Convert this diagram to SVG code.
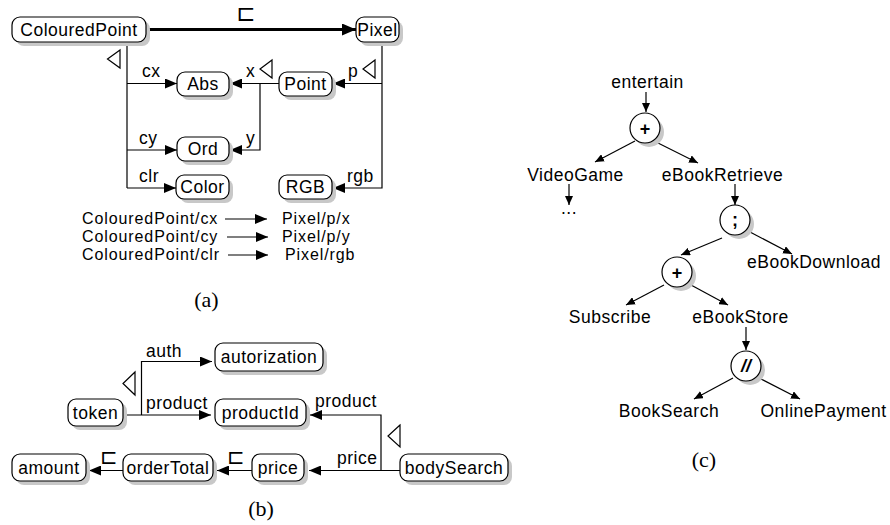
<svg xmlns="http://www.w3.org/2000/svg" width="890" height="525" viewBox="0 0 890 525">
<style>
.box{fill:#fff;stroke:#000;stroke-width:1.2}
.sh{fill:#c8c8c8;stroke:none}
.t{font-family:"Liberation Sans",Arial,sans-serif;font-size:17.5px;letter-spacing:0.5px;fill:#000}
.mp{font-family:"Liberation Sans",Arial,sans-serif;font-size:16px;letter-spacing:0.9px;fill:#000}
.m{text-anchor:middle}
.ln{fill:none;stroke:#000;stroke-width:1.2}
.thick{fill:none;stroke:#000;stroke-width:3}
.cap{font-family:"Liberation Serif","Times New Roman",serif;font-size:22px;text-anchor:middle;fill:#000}
.sym{font-family:"DejaVu Sans",sans-serif;font-size:23px;fill:#000}
.tri{fill:#fff;stroke:#000;stroke-width:1.2}
.op{font-family:"Liberation Sans",Arial,sans-serif;font-weight:bold;font-size:18px;text-anchor:middle;fill:#000}
</style>
<defs>
<marker id="arr" markerUnits="userSpaceOnUse" markerWidth="12" markerHeight="10" refX="12" refY="5" orient="auto"><path d="M0,0 L12,5 L0,10 z" fill="#000"/></marker>
<marker id="arrs" markerUnits="userSpaceOnUse" markerWidth="9" markerHeight="8" refX="9" refY="4" orient="auto"><path d="M0,0 L9,4 L0,8 z" fill="#000"/></marker>
<marker id="arrt" markerUnits="userSpaceOnUse" markerWidth="14" markerHeight="12" refX="14" refY="6" orient="auto"><path d="M0,0 L14,6 L0,12 z" fill="#000"/></marker>
</defs>
<rect width="890" height="525" fill="#fff"/>

<!-- connectors -->
<g id="connectors">
  <!-- (a) -->
  <path class="thick" d="M146,29.5 H356" marker-end="url(#arrt)"/>
  <path class="ln" d="M127,42 V188"/>
  <path class="ln" d="M127,83.5 H177" marker-end="url(#arr)"/>
  <path class="ln" d="M127,150 H177" marker-end="url(#arr)"/>
  <path class="ln" d="M127,188 H176" marker-end="url(#arr)"/>
  <path class="ln" d="M279,83.5 H230" marker-end="url(#arr)"/>
  <path class="ln" d="M260,83.5 V150 H230" marker-end="url(#arr)"/>
  <path class="ln" d="M382,42 V188 H333" marker-end="url(#arr)"/>
  <path class="ln" d="M382,83.5 H333" marker-end="url(#arr)"/>
  <path class="ln" d="M225,219 H267" marker-end="url(#arr)"/>
  <path class="ln" d="M227,237 H268" marker-end="url(#arr)"/>
  <path class="ln" d="M228,255 H268" marker-end="url(#arr)"/>
  <text class="t" x="142" y="77">cx</text>
  <text class="t" x="246" y="77">x</text>
  <text class="t" x="348" y="77">p</text>
  <text class="t" x="139" y="144">cy</text>
  <text class="t" x="246" y="144">y</text>
  <text class="t" x="139" y="182">clr</text>
  <text class="t" x="347" y="182">rgb</text>
  <text class="sym" x="236.5" y="21">⊏</text>
  <polygon class="tri" points="120,50 107.5,59 120,68"/>
  <polygon class="tri" points="272,60 260,69 272,78"/>
  <polygon class="tri" points="375,60 363,69 375,78"/>
  <!-- (b) -->
  <path class="ln" d="M123,415 H211" marker-end="url(#arr)"/>
  <path class="ln" d="M141.5,415 V361.5 H212" marker-end="url(#arr)"/>
  <path class="ln" d="M400,470.5 H309" marker-end="url(#arr)"/>
  <path class="ln" d="M381,470.5 V415 H310" marker-end="url(#arr)"/>
  <path class="ln" d="M252,470.5 H217" marker-end="url(#arr)"/>
  <path class="ln" d="M123,470.5 H89" marker-end="url(#arr)"/>
  <text class="t" x="146" y="357">auth</text>
  <text class="t" x="146" y="409">product</text>
  <text class="t" x="315" y="407">product</text>
  <text class="t" x="337" y="464">price</text>
  <text class="sym" x="227" y="464" style="font-size:21px">⊏</text>
  <text class="sym" x="100" y="464" style="font-size:21px">⊏</text>
  <polygon class="tri" points="135,372 123,383.5 135,395"/>
  <polygon class="tri" points="400,425 388,436 400,447"/>
  <!-- (c) -->
  <path class="ln" d="M646,92 V112" marker-end="url(#arrs)"/>
  <path class="ln" d="M635,141 L595,162" marker-end="url(#arrs)"/>
  <path class="ln" d="M656,142 L698,163" marker-end="url(#arrs)"/>
  <path class="ln" d="M569,184 V205" marker-end="url(#arrs)"/>
  <path class="ln" d="M735,184 V205" marker-end="url(#arrs)"/>
  <path class="ln" d="M722,238 L681,255" marker-end="url(#arrs)"/>
  <path class="ln" d="M750,232 L792,254" marker-end="url(#arrs)"/>
  <path class="ln" d="M664,285 L626,305" marker-end="url(#arrs)"/>
  <path class="ln" d="M691,285 L728,305" marker-end="url(#arrs)"/>
  <path class="ln" d="M746,327 V350" marker-end="url(#arrs)"/>
  <path class="ln" d="M733,378 L694,399" marker-end="url(#arrs)"/>
  <path class="ln" d="M759,378 L800,399" marker-end="url(#arrs)"/>
</g>

<!-- (a) nodes -->
<g id="ColouredPoint"><rect class="sh" x="16" y="21" width="134" height="25" rx="8"/><rect class="box" x="12" y="17" width="134" height="25" rx="8"/><text class="t m" x="79" y="36">ColouredPoint</text></g>
<g id="Pixel"><rect class="sh" x="360" y="21" width="43" height="25" rx="8"/><rect class="box" x="356" y="17" width="43" height="25" rx="8"/><text class="t m" x="377.5" y="36">Pixel</text></g>
<g id="Abs"><rect class="sh" x="181" y="76" width="52" height="24" rx="8"/><rect class="box" x="177" y="72" width="52" height="24" rx="8"/><text class="t m" x="203" y="90">Abs</text></g>
<g id="Point"><rect class="sh" x="283" y="76" width="53" height="24" rx="8"/><rect class="box" x="279" y="72" width="53" height="24" rx="8"/><text class="t m" x="305.5" y="90">Point</text></g>
<g id="Ord"><rect class="sh" x="181" y="141" width="52" height="24" rx="8"/><rect class="box" x="177" y="137" width="52" height="24" rx="8"/><text class="t m" x="203" y="155">Ord</text></g>
<g id="Color"><rect class="sh" x="180" y="179" width="53" height="24" rx="8"/><rect class="box" x="176" y="175" width="53" height="24" rx="8"/><text class="t m" x="202.5" y="193">Color</text></g>
<g id="RGB"><rect class="sh" x="283" y="179" width="53" height="24" rx="8"/><rect class="box" x="279" y="175" width="53" height="24" rx="8"/><text class="t m" x="305.5" y="193">RGB</text></g>
<g id="mapping">
  <text class="mp" x="82" y="224">ColouredPoint/cx</text>
  <text class="mp" x="282" y="224">Pixel/p/x</text>
  <text class="mp" x="82" y="242">ColouredPoint/cy</text>
  <text class="mp" x="282" y="242">Pixel/p/y</text>
  <text class="mp" x="82" y="260">ColouredPoint/clr</text>
  <text class="mp" x="285" y="260">Pixel/rgb</text>
</g>
<text class="cap" x="206.5" y="307">(a)</text>

<!-- (b) nodes -->
<g id="token"><rect class="sh" x="72" y="403" width="55" height="27" rx="8"/><rect class="box" x="68" y="399" width="55" height="27" rx="8"/><text class="t m" x="95.5" y="419">token</text></g>
<g id="autorization"><rect class="sh" x="219" y="347" width="108" height="28" rx="8"/><rect class="box" x="215" y="343" width="108" height="28" rx="8"/><text class="t m" x="269" y="363">autorization</text></g>
<g id="productId"><rect class="sh" x="219" y="403" width="91" height="27" rx="8"/><rect class="box" x="215" y="399" width="91" height="27" rx="8"/><text class="t m" x="260.5" y="419">productId</text></g>
<g id="amount"><rect class="sh" x="16" y="458" width="74" height="27" rx="8"/><rect class="box" x="12" y="454" width="74" height="27" rx="8"/><text class="t m" x="49" y="474">amount</text></g>
<g id="orderTotal"><rect class="sh" x="127" y="458" width="90" height="27" rx="8"/><rect class="box" x="123" y="454" width="90" height="27" rx="8"/><text class="t m" x="168" y="474">orderTotal</text></g>
<g id="price"><rect class="sh" x="256" y="458" width="52" height="27" rx="8"/><rect class="box" x="252" y="454" width="52" height="27" rx="8"/><text class="t m" x="278" y="474">price</text></g>
<g id="bodySearch"><rect class="sh" x="404" y="458" width="108" height="27" rx="8"/><rect class="box" x="400" y="454" width="108" height="27" rx="8"/><text class="t m" x="454" y="474">bodySearch</text></g>
<text class="cap" x="261" y="516">(b)</text>

<!-- (c) nodes -->
<g id="entertain"><text class="t m" x="647.5" y="88">entertain</text></g>
<g id="choice1"><circle class="sh" cx="649" cy="132" r="15"/><circle class="box" cx="645" cy="128" r="15"/><text class="op" x="645" y="134.5">+</text></g>
<g id="VideoGame"><text class="t m" x="575.5" y="181">VideoGame</text></g>
<g id="eBookRetrieve"><text class="t m" x="722.5" y="181">eBookRetrieve</text></g>
<g id="ellipsis"><text class="t m" x="569" y="214">...</text></g>
<g id="seq"><circle class="sh" cx="739" cy="224" r="15"/><circle class="box" cx="735" cy="220" r="15"/><text class="op" x="735" y="226">;</text></g>
<g id="eBookDownload"><text class="t m" x="814" y="268">eBookDownload</text></g>
<g id="choice2"><circle class="sh" cx="681" cy="276" r="15"/><circle class="box" cx="677" cy="272" r="15"/><text class="op" x="677" y="278.5">+</text></g>
<g id="Subscribe"><text class="t m" x="610" y="323">Subscribe</text></g>
<g id="eBookStore"><text class="t m" x="740.5" y="323">eBookStore</text></g>
<g id="par"><circle class="sh" cx="750" cy="370" r="15"/><circle class="box" cx="746" cy="366" r="15"/><text class="op" x="746" y="372" font-style="italic">//</text></g>
<g id="BookSearch"><text class="t m" x="669" y="417">BookSearch</text></g>
<g id="OnlinePayment"><text class="t m" x="823.5" y="417">OnlinePayment</text></g>
<text class="cap" x="704" y="467">(c)</text>
</svg>
